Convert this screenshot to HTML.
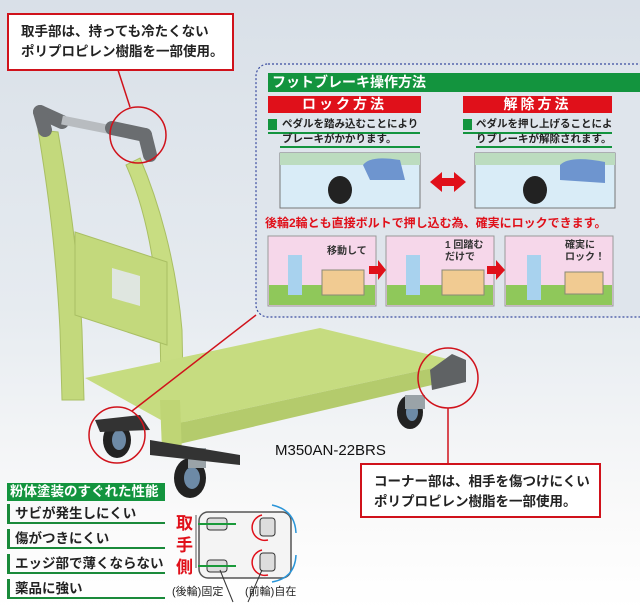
<!DOCTYPE html>
<html><head><meta charset="utf-8"><style>
body{margin:0;width:640px;height:610px;overflow:hidden;position:relative;font-family:"Liberation Sans","Noto Sans CJK JP",sans-serif;font-weight:bold;background:linear-gradient(#d9e0e8 0%,#e6ebf0 50%,#fafafa 85%,#fff 100%)}
.a{position:absolute;white-space:nowrap}
.call{position:absolute;background:#fff;border:2px solid #d0121b;box-sizing:border-box;font-size:13.5px;line-height:20px;color:#222;padding:7px 0 0 12px;white-space:nowrap}
.li{position:absolute;left:7px;width:158px;height:20px;border-left:3px solid #1a8a3a;border-bottom:2px solid #1a8a3a;font-size:13.5px;line-height:19px;padding-left:5px;box-sizing:border-box;color:#222;white-space:nowrap}
</style></head><body>
<svg class="a" style="left:0;top:0" width="640" height="610">
<!-- handle pipes -->
<path d="M38,130 C48,190 56,250 60,330 L62,400 L84,400 L82,330 C78,250 68,190 58,132Z" fill="#c3d97c" stroke="#a9bf63"/>
<path d="M140,158 C158,200 176,260 182,330 L184,430 L162,432 L160,330 C156,260 144,205 126,165Z" fill="#c8dd82" stroke="#a9bf63"/>
<!-- panel -->
<polygon points="75,232 167,262 167,345 75,315" fill="#c3d97c" stroke="#a9bf63"/>
<polygon points="112,268 140,276 140,306 112,298" fill="#dfe6e0"/>
<!-- handle grip -->
<line x1="40" y1="112" x2="62" y2="122" stroke="#6a6d70" stroke-width="14" stroke-linecap="round"/>
<line x1="40" y1="112" x2="45" y2="130" stroke="#6a6d70" stroke-width="14" stroke-linecap="round"/>
<line x1="62" y1="120" x2="112" y2="130" stroke="#b8bcc0" stroke-width="9"/>
<line x1="112" y1="128" x2="145" y2="135" stroke="#6a6d70" stroke-width="14" stroke-linecap="round"/>
<line x1="145" y1="135" x2="150" y2="155" stroke="#6a6d70" stroke-width="14" stroke-linecap="round"/>
<!-- deck -->
<polygon points="85,378 320,328 460,362 170,425" fill="#c6dc80"/>
<polygon points="170,425 460,362 462,378 175,445" fill="#b4cb6c"/>
<polygon points="160,400 180,400 182,455 162,450" fill="#bfd575"/>
<polygon points="430,370 452,354 466,360 466,382 432,390" fill="#5f6264"/>
<!-- wheels -->
<ellipse cx="190" cy="478" rx="16" ry="20" fill="#222"/><ellipse cx="192" cy="478" rx="8" ry="11" fill="#6d8aa6"/>
<rect x="188" y="448" width="18" height="20" fill="#9aa3a8"/>
<ellipse cx="410" cy="412" rx="13" ry="17" fill="#222"/><ellipse cx="412" cy="412" rx="6" ry="9" fill="#6d8aa6"/>
<rect x="405" y="395" width="20" height="14" fill="#9aa3a8"/>
<ellipse cx="117" cy="440" rx="14" ry="18" fill="#222"/><ellipse cx="119" cy="440" rx="7" ry="10" fill="#6d8aa6"/>
<polygon points="95,420 140,415 150,430 100,432" fill="#333"/>
<polygon points="150,440 240,455 240,465 150,455" fill="#333"/>
<!-- circles and lines -->
<g fill="none" stroke="#d0121b" stroke-width="1.5">
<circle cx="138" cy="135" r="28"/><line x1="118" y1="70" x2="130" y2="107"/>
<circle cx="117" cy="435" r="28"/><line x1="132" y1="411" x2="256" y2="315"/>
<circle cx="448" cy="378" r="30"/><line x1="448" y1="408" x2="448" y2="463"/>
</g>
<!-- brake panel -->
<rect x="256" y="64" width="395" height="253" rx="12" fill="#dfe5ec" stroke="#3a4ca0" stroke-width="1.2" stroke-dasharray="2,2"/>
<rect x="268" y="73" width="372" height="19" fill="#13943e"/>
<rect x="268" y="96" width="153" height="17" fill="#e0101a"/>
<rect x="463" y="96" width="149" height="17" fill="#e0101a"/>
<rect x="268" y="119" width="9" height="11" fill="#13943e"/><rect x="463" y="119" width="9" height="11" fill="#13943e"/>
<g stroke="#13943e" stroke-width="2"><line x1="268" y1="133" x2="420" y2="133"/><line x1="280" y1="147" x2="420" y2="147"/><line x1="463" y1="133" x2="612" y2="133"/><line x1="476" y1="147" x2="612" y2="147"/></g>
<rect x="280" y="153" width="140" height="55" fill="#d9ecf7" stroke="#777"/>
<rect x="475" y="153" width="140" height="55" fill="#d9ecf7" stroke="#777"/>
<rect x="280" y="153" width="140" height="12" fill="#bcdcbf"/><rect x="475" y="153" width="140" height="12" fill="#bcdcbf"/>
<ellipse cx="340" cy="190" rx="12" ry="14" fill="#222"/><ellipse cx="535" cy="190" rx="12" ry="14" fill="#222"/>
<path d="M363,165 Q370,155 400,160 L405,180 L370,180Z" fill="#6e95cf"/><path d="M560,165 Q570,155 605,162 L605,183 L560,180Z" fill="#6e95cf"/>
<polygon points="430,182 442,172 442,178 454,178 454,172 466,182 454,192 454,186 442,186 442,192" fill="#e0101a"/>
<g stroke="#999"><rect x="268" y="236" width="108" height="70" fill="#f6d7ea"/><rect x="386" y="236" width="108" height="70" fill="#f6d7ea"/><rect x="505" y="236" width="108" height="70" fill="#f6d7ea"/></g>
<rect x="269" y="285" width="106" height="20" fill="#8fc85a"/><rect x="387" y="285" width="106" height="20" fill="#8fc85a"/><rect x="506" y="285" width="106" height="20" fill="#8fc85a"/>
<g fill="#f1cb92" stroke="#887"><rect x="322" y="270" width="42" height="25"/><rect x="442" y="270" width="42" height="25"/><rect x="565" y="272" width="38" height="22"/></g>
<g fill="#a8d2ee"><rect x="288" y="255" width="14" height="40"/><rect x="406" y="255" width="14" height="40"/><rect x="527" y="255" width="14" height="45"/></g>
<polygon points="369,266 378,266 378,260 386,270 378,280 378,274 369,274" fill="#e0101a"/>
<polygon points="487,266 496,266 496,260 505,270 496,280 496,274 487,274" fill="#e0101a"/>
<!-- diagram -->
<rect x="199" y="512" width="92" height="66" rx="9" fill="#f4f4f4" stroke="#555" stroke-width="1.5"/>
<line x1="196" y1="515" x2="196" y2="568" stroke="#555"/>
<g fill="#ddd" stroke="#333"><rect x="207" y="518" width="20" height="12" rx="3"/><rect x="207" y="560" width="20" height="12" rx="3"/><rect x="260" y="518" width="15" height="18" rx="3"/><rect x="260" y="553" width="15" height="18" rx="3"/></g>
<g stroke="#1a9a3a" stroke-width="2"><line x1="198" y1="524" x2="236" y2="524"/><line x1="198" y1="566" x2="236" y2="566"/></g>
<g fill="none" stroke="#e0101a" stroke-width="1.5"><path d="M262,515 A12,12 0 1,0 268,540"/><path d="M262,550 A12,12 0 1,0 268,575"/></g>
<g fill="none" stroke="#2a95d8" stroke-width="1.5"><path d="M272,505 Q295,510 296,533"/><path d="M296,555 Q295,578 272,582"/></g>
<g stroke="#333"><line x1="220" y1="570" x2="233" y2="602"/><line x1="262" y1="570" x2="248" y2="602"/></g>
</svg>
<div class="call" style="left:7px;top:13px;width:227px;height:58px">取手部は、持っても冷たくない<br>ポリプロピレン樹脂を一部使用。</div>
<div class="call" style="left:360px;top:463px;width:241px;height:55px">コーナー部は、相手を傷つけにくい<br>ポリプロピレン樹脂を一部使用。</div>
<div class="a" style="left:272px;top:73px;font-size:14px;line-height:19px;color:#fff">フットブレーキ操作方法</div>
<div class="a" style="left:268px;top:96px;width:153px;text-align:center;font-size:14px;line-height:17px;color:#fff;letter-spacing:3px">ロック方法</div>
<div class="a" style="left:463px;top:96px;width:149px;text-align:center;font-size:14px;line-height:17px;color:#fff;letter-spacing:3px">解除方法</div>
<div class="a" style="left:282px;top:117px;font-size:10.5px;line-height:15px;color:#222">ペダルを踏み込むことにより<br>ブレーキがかかります。</div>
<div class="a" style="left:476px;top:117px;font-size:10.5px;line-height:15px;color:#222">ペダルを押し上げることによ<br>りブレーキが解除されます。</div>
<div class="a" style="left:265px;top:214px;font-size:12px;color:#e0101a">後輪2輪とも直接ボルトで押し込む為、確実にロックできます。</div>
<div class="a" style="left:327px;top:242px;font-size:10px;color:#333">移動して</div>
<div class="a" style="left:445px;top:240px;font-size:10px;line-height:12px;color:#333">1 回踏む<br>だけで</div>
<div class="a" style="left:565px;top:240px;font-size:10px;line-height:12px;color:#333">確実に<br>ロック！</div>
<div class="a" style="left:275px;top:442px;font-size:15px;font-weight:normal;color:#111">M350AN-22BRS</div>
<div class="a" style="left:7px;top:483px;width:158px;height:18px;background:#13943e;color:#fff;font-size:13.5px;line-height:18px;padding-left:3px;box-sizing:border-box">粉体塗装のすぐれた性能</div>
<div class="li" style="top:504px">サビが発生しにくい</div>
<div class="li" style="top:529px">傷がつきにくい</div>
<div class="li" style="top:554px">エッジ部で薄くならない</div>
<div class="li" style="top:579px">薬品に強い</div>
<div class="a" style="left:176px;top:513px;font-size:17px;line-height:22px;color:#e0101a;white-space:normal;width:18px">取手側</div>
<div class="a" style="left:172px;top:583px;font-size:11px;font-weight:normal;color:#222">(後輪)固定</div>
<div class="a" style="left:245px;top:583px;font-size:11px;font-weight:normal;color:#222">(前輪)自在</div>
</body></html>
